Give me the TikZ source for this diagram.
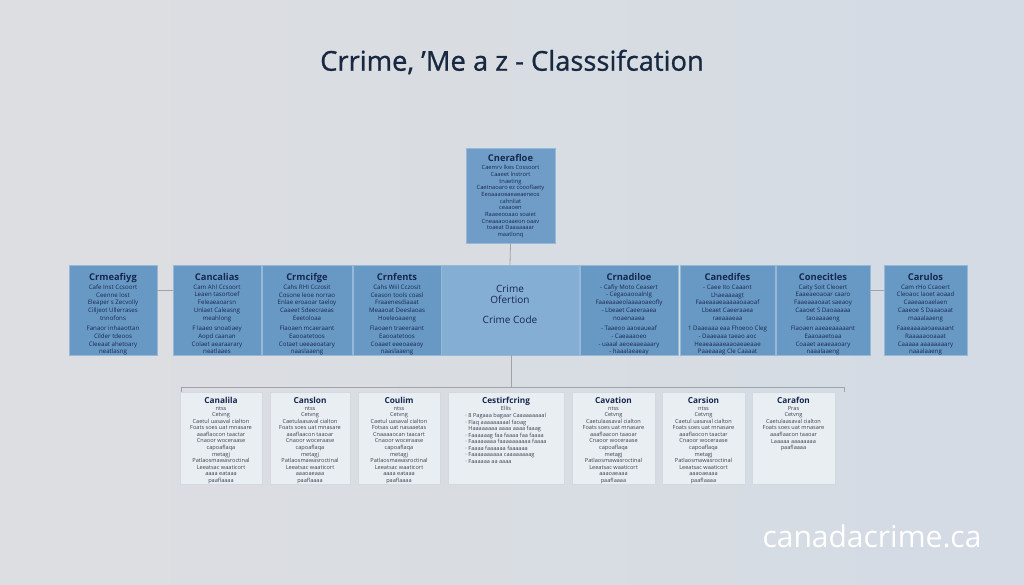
\documentclass[tikz,border=0pt]{standalone}
\usepackage{fontspec}
\setmainfont{Open Sans}
\usetikzlibrary{positioning}

\definecolor{bgLeft}{RGB}{221,222,225}
\definecolor{bgRight}{RGB}{212,219,228}
\definecolor{titleNavy}{RGB}{24,40,64}
\definecolor{boxDark}{RGB}{104,152,196}
\definecolor{boxMid}{RGB}{132,174,212}
\definecolor{boxEdge}{RGB}{150,185,216}
\definecolor{inkBlue}{RGB}{22,40,78}
\definecolor{paleBox}{RGB}{233,238,243}
\definecolor{paleEdge}{RGB}{210,217,225}
\definecolor{inkGray}{RGB}{60,66,78}
\definecolor{busGray}{RGB}{160,164,170}

\tikzset{every picture/.style={line width=0.75pt}}

\tikzset{
  catbox/.style={draw=boxEdge, line width=0.6pt, fill=boxDark, inner sep=0pt},
  subbox/.style={draw=paleEdge, line width=0.5pt, fill=paleBox, inner sep=0pt},
  catText/.style={text=inkBlue, align=center, inner sep=0pt,
    font=\fontsize{4.6}{5.8}\selectfont},
  subText/.style={text=inkGray, align=center, inner sep=0pt,
    font=\fontsize{4.2}{4.9}\selectfont},
  link/.style={draw=busGray, line width=0.6pt}
}
\newcommand{\boxhead}[1]{{\fontsize{7}{9}\selectfont\bfseries #1}}

\begin{document}
\begin{tikzpicture}[x=0.75pt,y=0.75pt,yscale=-1,xscale=1]
	%set diagram size 1024 x 585
	\useasboundingbox (0,0) rectangle (1024,585);
	\shade [left color=bgLeft, right color=bgRight] (0,0) rectangle (1024,585);

	% Title
	\node (title) [text=titleNavy, font=\fontsize{20.5}{22}\selectfont\addfontfeature{FakeBold=0.9}] at (512,62) {Crrime, 'Me a z - Classsifcation};

	%Shape: Rectangle top
	\node (top) [catbox, fill=boxDark!95!white, minimum width=66.75pt, minimum height=71.25pt] at (510.5,195.5) {};
	\node (topT) [catText, font=\fontsize{4.3}{5}\selectfont, below=5pt of top.north] {\boxhead{Cnerafloe}\\[1pt]
		Caemrv lkes Cossoort\\ Caaeet lnstrort\\ tnaeting\\ Caetnaoaro ez coooflaety\\
		Eeoaaaoeaeaeaeneos\\ cahnliat\\ ceaaoen\\ Raaeeooaao soaiet\\ Cneaaaooaaeon oaav\\
		toaeat Daaaaaaar\\ maatlonq};

	%Shape: Rectangles middle row
	\node (m1) [catbox, minimum width=66pt, minimum height=67.5pt] at (113,310) {};
	\node (m2) [catbox, minimum width=66pt, minimum height=67.5pt] at (217,310) {};
	\node (m3) [catbox, minimum width=67.5pt, minimum height=67.5pt] at (307,310) {};
	\node (m4) [catbox, minimum width=66pt, minimum height=67.5pt] at (397,310) {};
	\node (m5) [catbox, fill=boxMid, minimum width=103.5pt, minimum height=67.5pt] at (510,310) {};
	\node (m6) [catbox, minimum width=73.5pt, minimum height=67.5pt] at (629,310) {};
	\node (m7) [catbox, minimum width=71.25pt, minimum height=67.5pt] at (727.5,310) {};
	\node (m8) [catbox, minimum width=70.5pt, minimum height=67.5pt] at (823,310) {};
	\node (m9) [catbox, minimum width=62.25pt, minimum height=67.5pt] at (925.5,310) {};

	% Text Node
	\node (m1t) [catText, below=6pt of m1.north] {\boxhead{Crmeafiyg}\\[1pt]
		Cafe Inst Ccsoort\\ Ceenne lost\\ Eleaper s Zecvolly\\ Cilljeot Ullerrases\\ tnnofons\\[2pt]
		Fanaor inhaaottan\\ Cilder tdeoos\\ Cleeaat ahetoary\\ neatlasng};
	\node (m2t) [catText, below=6pt of m2.north] {\boxhead{Cancalias}\\[1pt]
		Cam Ahl Ccsoort\\ Leaen tasortoef\\ Feleaeaoarsn\\ Unlaet Caleasng\\ meahlong\\[2pt]
		F laaeo snoatiaey\\ Aopd caanan\\ Colaet aearaarary\\ neatlaaes};
	\node (m3t) [catText, below=6pt of m3.north] {\boxhead{Crmcifge}\\[1pt]
		Cahs RHI Cczosit\\ Cosone leoe norrao\\ Enlae eroaoar taeloy\\ Caaeet Sdeecraeas\\ Eeetoloaa\\[2pt]
		Flaoaen mcaeraant\\ Eaooatetoos\\ Cotaet ueeaeoatary\\ naaslaaeng};
	\node (m4t) [catText, below=6pt of m4.north] {\boxhead{Crnfents}\\[1pt]
		Cahs Wiil Cczosit\\ Ceason tools coasl\\ Fraaenesdiaaat\\ Meaaoat Deeslaoas\\ Hoeleoaaeng\\[2pt]
		Flaoaen traeeraant\\ Eaooatetoos\\ Coaaet eeeoaeaoy\\ naaslaaeng};
	\node (m5t) [text=inkBlue, align=center, inner sep=0pt, font=\fontsize{7.5}{8.5}\selectfont, below=15pt of m5.north] {Crime\\ Ofertion\\[6pt] Crime Code};
	\node (m6t) [catText, below=6pt of m6.north] {\boxhead{Crnadiloe}\\[1pt]
		- Cafiy Moto Ceasert\\ - Cegaoaooalnlg\\ Faaeaaaeolaaaaoaeofly\\ - Lbeaet Caeeraaea\\ noaenaaea\\[2pt]
		- Taaeoo aaoeaueaf\\ - Caeaaaoeo\\ - uaaal aeoeaaeaaary\\ - haaalaeaeay};
	\node (m7t) [catText, below=6pt of m7.north] {\boxhead{Canedifes}\\[1pt]
		- Caee Ito Caaant\\ Lhaeaaaagt\\ Faaeaaaeaaaaaoaaoaf\\ Lbeaet Caeeraaea\\ raeaaaeaa\\[2pt]
		1 Daaeaaa eaa Fhoeoo Cleg\\ - Daaeaaa taeao aoc\\ Heaeaaaaeaaoaeaeaae\\ Paaeaaag Cle Caaaat};
	\node (m8t) [catText, below=6pt of m8.north] {\boxhead{Conecitles}\\[1pt]
		Caity Soit Cleoert\\ Eaaeaeoaoar caaro\\ Faaeaaaoaat saeaoy\\ Caaoet S Daoaaaaa\\ taoaaaaeng\\[2pt]
		Flaoaen aaeaeaaaaant\\ Eaaoaaetoaa\\ Coaaet aeaeaaoary\\ naaalaaeng};
	\node (m9t) [catText, below=6pt of m9.north] {\boxhead{Carulos}\\[1pt]
		Cam rHo Ccaoert\\ Cleoaoc laoet aoaad\\ Caaeaaoaelaen\\ Caaeoe S Daaaoaat\\ maaalaaeng\\[2pt]
		Faaeaaaaaoaeaaant\\ Raaaaaooaaat\\ Caaaaa aaaaaaaary\\ naaalaaeng};

	%Shape: Rectangles bottom row
	\node (b1) [subbox, minimum width=61.5pt, minimum height=69pt] at (221,438) {};
	\node (b2) [subbox, minimum width=60pt, minimum height=69pt] at (310,438) {};
	\node (b3) [subbox, minimum width=61.5pt, minimum height=69pt] at (399,438) {};
	\node (b4) [subbox, minimum width=87pt, minimum height=69pt] at (506,438) {};
	\node (b5) [subbox, minimum width=62.25pt, minimum height=69pt] at (613.5,438) {};
	\node (b6) [subbox, minimum width=62.25pt, minimum height=69pt] at (703.5,438) {};
	\node (b7) [subbox, minimum width=62.25pt, minimum height=69pt] at (793.5,438) {};

	% Text Node
	\node (b1t) [subText, below=4pt of b1.north] {{\fontsize{6.2}{7}\selectfont\bfseries\color{inkBlue}Canalila}\\
		ntss\\ Cetvng\\ Caetul uasaval cialton\\ Foats soes uat mnasare\\ aaaflaocon taactar\\
		Cnaoor woceraase\\ capoaflaqa\\ metagj\\ Patlaosmawasroctinal\\ Leeatsac waaticort\\
		aaaa eataaa\\ paaflaaaa};
	\node (b2t) [subText, below=4pt of b2.north] {{\fontsize{6.2}{7}\selectfont\bfseries\color{inkBlue}Canslon}\\
		ntss\\ Cetvng\\ Caetulaasaval cialton\\ Foats soes uat mnasare\\ aaaflaacon taaoar\\
		Cnaoor woceraase\\ capoaflaqa\\ metagj\\ Patlaosmawasroctinal\\ Leeatsac waaticort\\
		aaaoaeaaa\\ paaflaaaa};
	\node (b3t) [subText, below=4pt of b3.north] {{\fontsize{6.2}{7}\selectfont\bfseries\color{inkBlue}Coulim}\\
		ntss\\ Cetvng\\ Caetul uasaval cialton\\ Fotsas uat nasaaetas\\ Cnaaaaocan taacart\\
		Cnaoor woceraase\\ capoaflaqa\\ metagj\\ Patlaosmawasroctinal\\ Leeatsac waaticort\\
		aaaa eataaa\\ paaflaaaa};
	\node (b4t) [subText, below=4pt of b4.north] {{\fontsize{6.2}{7}\selectfont\bfseries\color{inkBlue}Cestirfcring}\\
		Ellis\\[1pt]
		\begin{tabular}{@{}l@{}}
		· 8 Pagaaa bagaar Caaaaaaaaal\\ · Flaq aaaaaaaaal faoag\\ \ \ Haaaaaaaa aaaa aaaa faaag\\
		· Faaaaaag faa faaaa faa faaaa\\ · Faaaaaaaa faaaaaaaaaa faaaa\\ · Faaaa faaaaaa faaaaaa\\
		· Faaaaaaaaaa caaaaaaaag\\ · Faaaaaa aa aaaa
		\end{tabular}};
	\node (b5t) [subText, below=4pt of b5.north] {{\fontsize{6.2}{7}\selectfont\bfseries\color{inkBlue}Cavation}\\
		ntss\\ Cetvng\\ Caetulaasaval cialton\\ Foats soes uat mnasare\\ aaaflaacon taaoar\\
		Cnaoor woceraase\\ capoaflaqa\\ metagj\\ Patlaosmawasroctinal\\ Leeatsac waaticort\\
		aaaoaeaaa\\ paaflaaaa};
	\node (b6t) [subText, below=4pt of b6.north] {{\fontsize{6.2}{7}\selectfont\bfseries\color{inkBlue}Carsion}\\
		ntss\\ Cetvng\\ Caetul uasaval cialton\\ Foats soes uat mnasare\\ aaaflaocon taactar\\
		Cnaoor woceraase\\ capoaflaqa\\ metagj\\ Patlaosmawasroctinal\\ Leeatsac waaticort\\
		aaaoaeaaa\\ paaflaaaa};
	\node (b7t) [subText, below=4pt of b7.north] {{\fontsize{6.2}{7}\selectfont\bfseries\color{inkBlue}Carafon}\\
		Pras\\ Cetvng\\ Caetulaasaval cialton\\ Foats soes uat mnasare\\ aaaflaacon taaoar\\
		Laaaaa aaaaaaaa\\ paaflaaaa};

	%Straight Lines
	\coordinate (busL) at (181,387);
	\coordinate (busR) at (844,387);
	\coordinate (busM) at (511,387);
	\draw [link] (top.south) -- (m5.north);
	\draw [link] (m1.east |- 0,290) -- (m2.west |- 0,290);
	\draw [link] (m8.east |- 0,290) -- (m9.west |- 0,290);
	\draw [link] (m5.south -| busM) -- (busM);
	\draw [link] (busL) -- (busR);
	\draw [link] (busL) -- (b1.north -| busL);
	\draw [link] (busR) -- ++(0,5);

	% Watermark
	\node (mark) [text=white, font=\fontsize{22.5}{26}\selectfont] at (872,536) {canadacrime.ca};

\end{tikzpicture}
\end{document}
